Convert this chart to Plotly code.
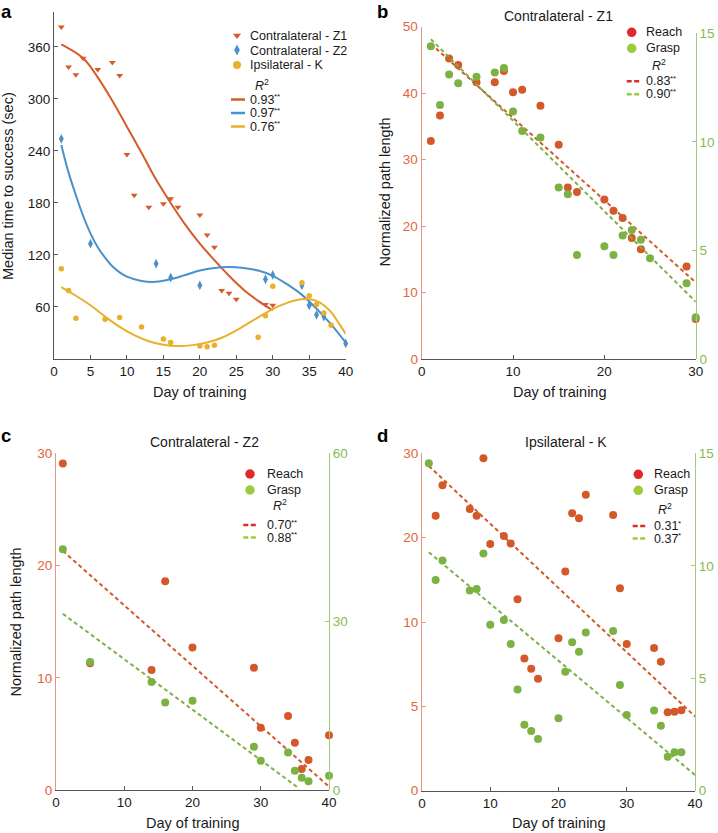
import plotly.graph_objects as go

W, H = 718, 833
FONT = "Liberation Sans, Arial, Helvetica, sans-serif"

# ---------------- data: panel a ----------------
a_z1_days = [1, 2, 3, 4, 6, 8, 9, 10, 11, 13, 15, 16, 17, 20, 21, 22, 23, 24, 25, 29, 30]
a_z1_vals = [383, 337, 328, 347, 334, 342, 327, 236, 189, 175, 179, 185, 175, 166, 143, 129, 79, 76, 69, 63, 62]
a_z2_days = [1, 5, 14, 16, 20, 29, 30, 34, 35, 36, 37, 40]
a_z2_vals = [254, 133, 110, 94, 85, 92, 97, 85, 62, 51, 49, 18]
a_k_days = [1, 2, 3, 7, 9, 12, 15, 16, 20, 21, 22, 28, 29, 30, 34, 35, 36, 37, 38]
a_k_vals = [104, 79, 47, 46, 48, 37, 23, 19, 15, 14, 16, 25, 50, 84, 88, 73, 63, 53, 39]

a_z1_fit_days = [1, 4, 6, 8, 10, 12, 14, 16, 18, 20, 22, 24, 26, 28, 30]
a_z1_fit_vals = [363, 347, 325, 298, 268, 238, 207, 180, 155, 133, 114, 96, 80, 67, 56]
a_z2_fit_days = [1, 2, 3, 4, 5, 6, 7, 8, 9, 10, 12, 14, 16, 18, 20, 22, 24, 26, 28, 30, 32, 34, 36, 38, 40]
a_z2_fit_vals = [247, 215, 189, 165, 145, 129, 117, 107, 100, 95, 90, 89, 92, 97, 102, 105, 106, 105, 102, 96, 86, 74, 58, 40, 19]
a_k_fit_days = [1, 3, 5, 7, 9, 11, 13, 15, 17, 19, 21, 23, 25, 27, 29, 31, 33, 35, 36, 37, 38, 39, 40]
a_k_fit_vals = [83, 73, 62, 49, 37, 27.5, 20.5, 16.5, 15, 16, 19, 24.5, 33, 43, 53, 61.5, 67.5, 69, 67, 62, 54, 42, 29]

a_x_ticks = [0, 5, 10, 15, 20, 25, 30, 35, 40]
a_y_ticks = [60, 120, 180, 240, 300, 360]
a_legend = ["Contralateral - Z1", "Contralateral - Z2", "Ipsilateral - K"]
a_r2 = ["0.93", "0.97", "0.76"]
a_sig = ["**", "**", "**"]

# ---------------- data: panel b (Contralateral - Z1) ----------------
b_reach_days = [1, 2, 3, 4, 6, 8, 9, 10, 11, 13, 15, 16, 17, 20, 21, 22, 23, 24, 29, 30]
b_reach_vals = [32.8, 36.6, 45.2, 44.2, 41.6, 41.6, 43.3, 40.1, 40.5, 38.1, 32.2, 25.8, 25.1, 24.0, 22.3, 21.2, 18.2, 16.5, 13.9, 6.0]
b_grasp_days = [1, 2, 3, 4, 6, 8, 9, 10, 11, 13, 15, 16, 17, 20, 21, 22, 23, 24, 25, 29, 30]
b_grasp_vals = [14.4, 11.7, 13.1, 12.7, 13.0, 13.2, 13.4, 11.4, 10.5, 10.2, 7.9, 7.6, 4.8, 5.2, 4.8, 5.7, 5.95, 5.5, 4.65, 3.5, 1.93]
b_reach_fit_days = [1, 30]
b_reach_fit_vals = [47.4, 11.5]
b_grasp_fit_days = [1, 30]
b_grasp_fit_vals = [14.73, 2.65]
b_x_ticks = [0, 10, 20, 30]
b_left_ticks = [0, 10, 20, 30, 40, 50]
b_right_ticks = [0, 5, 10, 15]
b_r2 = ["0.83", "0.90"]
b_sig = ["**", "**"]

# ---------------- data: panel c (Contralateral - Z2) ----------------
c_reach_days = [1, 5, 14, 16, 20, 29, 30, 34, 35, 36, 37, 40]
c_reach_vals = [29.1, 11.3, 10.7, 18.6, 12.7, 10.9, 5.55, 6.6, 4.2, 1.87, 2.67, 4.87]
c_grasp_days = [1, 5, 14, 16, 20, 29, 30, 34, 35, 36, 37, 40]
c_grasp_vals = [42.9, 22.8, 19.25, 15.6, 15.9, 7.7, 5.2, 6.7, 3.45, 2.2, 1.55, 2.55]
c_reach_fit_days = [1, 40]
c_reach_fit_vals = [21.3, 0.3]
c_grasp_fit_days = [1, 35.6]
c_grasp_fit_vals = [31.4, 0.3]
c_x_ticks = [0, 10, 20, 30, 40]
c_left_ticks = [0, 10, 20, 30]
c_right_ticks = [0, 30, 60]
c_r2 = ["0.70", "0.88"]
c_sig = ["**", "**"]

# ---------------- data: panel d (Ipsilateral - K) ----------------
d_reach_days = [2, 3, 7, 8, 9, 10, 12, 13, 14, 15, 16, 17, 20, 21, 22, 23, 24, 28, 29, 30, 34, 35, 36, 37, 38]
d_reach_vals = [22.6, 26.2, 23.4, 22.6, 29.4, 19.25, 20.2, 19.3, 12.7, 7.83, 7.23, 6.64, 9.03, 16.0, 22.9, 22.3, 25.1, 22.7, 14.0, 8.7, 8.46, 7.65, 4.65, 4.68, 4.77]
d_grasp_days = [1, 2, 3, 7, 8, 9, 10, 12, 13, 14, 15, 16, 17, 20, 21, 22, 23, 24, 28, 29, 30, 34, 35, 36, 37, 38]
d_grasp_vals = [14.56, 9.37, 10.23, 8.9, 8.97, 10.54, 7.38, 7.59, 6.52, 4.5, 2.93, 2.65, 2.3, 3.22, 5.29, 6.6, 6.18, 7.03, 7.1, 4.7, 3.37, 3.56, 2.89, 1.51, 1.71, 1.71]
d_reach_fit_days = [1, 40]
d_reach_fit_vals = [28.5, 4.4]
d_grasp_fit_days = [1, 40]
d_grasp_fit_vals = [10.6, 0.7]
d_x_ticks = [0, 10, 20, 30, 40]
d_left_ticks = [0, 5, 10, 20, 30]
d_right_ticks = [0, 5, 10, 15]
d_r2 = ["0.31", "0.37"]
d_sig = ["*", "*"]


def d_scale(v):
    """Broken left axis of panel d: 0-10 stretched twice as much as 10-30."""
    return 2 * v if v <= 10 else v + 10


# ---------------- styling ----------------
RED_A, BLUE_A, YEL_A = "#D65A2A", "#4A90CB", "#E8B02B"
REACH, GRASP = "#D4592A", "#7CB244"
REACH_LEG, GRASP_LEG = "#DD2A2A", "#9ECB3C"
REACH_AX, GRASP_AX = "#E8967A", "#A2C97E"
REACH_TICK, GRASP_TICK = "#E2653C", "#86BA52"
AX_DARK = "#555555"
TXT = "#1a1a1a"
TICK_SIZE = 13.5


def X(p):
    return p / W


def Y(p):
    return 1 - p / H


fig = go.Figure()


def sc(x, y, xa, ya, **kw):
    fig.add_trace(go.Scatter(x=x, y=y, xaxis=xa, yaxis=ya, hoverinfo="skip",
                             cliponaxis=False, showlegend=False, **kw))


# panel a
sc(a_z1_fit_days, a_z1_fit_vals, "x", "y", mode="lines", line=dict(color=RED_A, width=2, shape="spline"))
sc(a_z2_fit_days, a_z2_fit_vals, "x", "y", mode="lines", line=dict(color=BLUE_A, width=2, shape="spline"))
sc(a_k_fit_days, a_k_fit_vals, "x", "y", mode="lines", line=dict(color=YEL_A, width=2, shape="spline"))
sc(a_z1_days, a_z1_vals, "x", "y", mode="markers", marker=dict(symbol="triangle-down", size=6, color=RED_A))
sc(a_z2_days, a_z2_vals, "x", "y", mode="markers", marker=dict(symbol="diamond-tall", size=7, color=BLUE_A))
sc(a_k_days, a_k_vals, "x", "y", mode="markers", marker=dict(symbol="circle", size=5.5, color=YEL_A))

DASH = "4px,3px"
# panel b
sc(b_reach_fit_days, b_reach_fit_vals, "x2", "y2", mode="lines", line=dict(color=REACH, width=2, dash=DASH))
sc(b_grasp_fit_days, b_grasp_fit_vals, "x2", "y3", mode="lines", line=dict(color=GRASP, width=2, dash=DASH))
sc(b_reach_days, b_reach_vals, "x2", "y2", mode="markers", marker=dict(size=8, color=REACH))
sc(b_grasp_days, b_grasp_vals, "x2", "y3", mode="markers", marker=dict(size=8, color=GRASP))

# panel c
sc(c_reach_fit_days, c_reach_fit_vals, "x3", "y4", mode="lines", line=dict(color=REACH, width=2, dash=DASH))
sc(c_grasp_fit_days, c_grasp_fit_vals, "x3", "y5", mode="lines", line=dict(color=GRASP, width=2, dash=DASH))
sc(c_reach_days, c_reach_vals, "x3", "y4", mode="markers", marker=dict(size=8, color=REACH))
sc(c_grasp_days, c_grasp_vals, "x3", "y5", mode="markers", marker=dict(size=8, color=GRASP))

# panel d
sc(d_reach_fit_days, [d_scale(v) for v in d_reach_fit_vals], "x4", "y6", mode="lines",
   line=dict(color=REACH, width=2, dash=DASH))
sc(d_grasp_fit_days, d_grasp_fit_vals, "x4", "y7", mode="lines", line=dict(color=GRASP, width=2, dash=DASH))
sc(d_reach_days, [d_scale(v) for v in d_reach_vals], "x4", "y6", mode="markers", marker=dict(size=8, color=REACH))
sc(d_grasp_days, d_grasp_vals, "x4", "y7", mode="markers", marker=dict(size=8, color=GRASP))


# ---------------- legends (overlay in pixel coordinates) ----------------
annotations = []
shapes = []


def text(x, y, s, size=12.5, anchor="left", yanchor="middle", color=TXT, **kw):
    annotations.append(dict(x=x, y=y, xref="x5", yref="y8", text=s, showarrow=False,
                            xanchor=anchor, yanchor=yanchor, borderpad=0,
                            font=dict(family=FONT, size=size, color=color), **kw))


def r2_text(x, y, val, sig):
    text(x, y, val, size=12.5)
    text(x + 24.3, y - 3, sig, size=8)


def legline(x0, x1, y, color, dash=None):
    shapes.append(dict(type="line", xref="x5", yref="y8", x0=x0, x1=x1, y0=y, y1=y,
                       line=dict(color=color, width=2.5, dash=dash)))


# panel a legend
sc([237], [35.5], "x5", "y8", mode="markers", marker=dict(symbol="triangle-down", size=7, color=RED_A))
sc([237], [50], "x5", "y8", mode="markers", marker=dict(symbol="diamond-tall", size=8, color=BLUE_A))
sc([237], [65], "x5", "y8", mode="markers", marker=dict(symbol="circle", size=8, color=YEL_A))
for i, lab in enumerate(a_legend):
    text(249, 36 + i * 14.5, lab)
text(262, 85, "<i>R</i><sup>2</sup>", anchor="center")
for i, (c, r, s) in enumerate(zip([RED_A, BLUE_A, YEL_A], a_r2, a_sig)):
    yy = 99.5 + i * 13.5
    legline(231, 245, yy, c)
    r2_text(249, yy, r, s)


def small_legend(mx, my, tx, r2x, r2y, ly, lx0, lx1, r2, sig, step=12.6):
    sc([mx, mx], [my, my + 16], "x5", "y8", mode="markers",
       marker=dict(size=9.5, color=[REACH_LEG, GRASP_LEG]))
    text(tx, my, "Reach")
    text(tx, my + 16, "Grasp")
    text(r2x, r2y, "<i>R</i><sup>2</sup>", anchor="center")
    for i, (c, r, s) in enumerate(zip([REACH_LEG, GRASP_LEG], r2, sig)):
        yy = ly + i * step
        legline(lx0, lx1, yy, c, dash="5px,2.5px")
        r2_text(tx, yy, r, s)


small_legend(631.7, 32.3, 645, 659, 64.7, 81.3, 626.7, 641.7, b_r2, b_sig, step=13)
small_legend(250, 474, 265.5, 280, 505, 525, 243.3, 258.3, c_r2, c_sig)
small_legend(638.3, 474.3, 653, 665, 509, 526, 632.7, 647.3, d_r2, d_sig)

# titles, axis titles, panel letters
text(558.5, 15.5, "Contralateral - Z1", size=14, anchor="center")
text(204, 441.7, "Contralateral - Z2", size=14, anchor="center")
text(566.3, 441.7, "Ipsilateral - K", size=14, anchor="center")

text(200, 392, "Day of training", size=14.5, anchor="center")
text(559.5, 392, "Day of training", size=14.5, anchor="center")
text(193, 823, "Day of training", size=14.5, anchor="center")
text(558.8, 823, "Day of training", size=14.5, anchor="center")

text(8, 186, "Median time to success (sec)", size=14.5, anchor="center", textangle=-90)
text(384, 192.5, "Normalized path length", size=14.5, anchor="center", textangle=-90)
text(15.5, 622, "Normalized path length", size=14.5, anchor="center", textangle=-90)

text(6, 0, "<b>a</b>", size=18.5, anchor="center", yanchor="top", color="#000")
text(382.5, 0, "<b>b</b>", size=18.5, anchor="center", yanchor="top", color="#000")
text(6, 424, "<b>c</b>", size=18.5, anchor="center", yanchor="top", color="#000")
text(382.5, 424, "<b>d</b>", size=18.5, anchor="center", yanchor="top", color="#000")


# ---------------- axes ----------------
def ax(domain, rng, tickvals, line_color, tick_color, anchor, side=None, ticktext=None):
    d = dict(domain=domain, range=rng, autorange=False, fixedrange=True, automargin=False,
             tickmode="array", tickvals=tickvals,
             ticks="inside", ticklen=4, tickwidth=1, tickcolor=line_color,
             showline=True, linecolor=line_color, linewidth=1.2,
             showgrid=False, zeroline=False, anchor=anchor,
             tickfont=dict(family=FONT, size=TICK_SIZE, color=tick_color))
    if side:
        d["side"] = side
    if ticktext is not None:
        d["ticktext"] = ticktext
    return d


layout = dict(
    template="none",
    width=W, height=H, margin=dict(l=0, r=0, t=0, b=0, pad=0), autosize=False,
    paper_bgcolor="white", plot_bgcolor="rgba(0,0,0,0)",
    showlegend=False, font=dict(family=FONT, color=TXT),
    # panel a
    xaxis=ax([X(54), X(345.7)], [0, 40], a_x_ticks, AX_DARK, TXT, "y"),
    yaxis=ax([Y(359), Y(12.3)], [0, 400], a_y_ticks, AX_DARK, TXT, "x"),
    # panel b
    xaxis2=ax([X(421.7), X(695.7)], [0, 30], b_x_ticks, AX_DARK, TXT, "y2"),
    yaxis2=ax([Y(359), Y(26.5)], [0, 50], b_left_ticks, REACH_AX, REACH_TICK, "x2"),
    yaxis3=ax([Y(359.3), Y(33.3)], [0, 15], b_right_ticks, GRASP_AX, GRASP_TICK, "x2", side="right"),
    # panel c
    xaxis3=ax([X(56), X(329)], [0, 40], c_x_ticks, AX_DARK, TXT, "y4"),
    yaxis4=ax([Y(790), Y(453.3)], [0, 30], c_left_ticks, REACH_AX, REACH_TICK, "x3"),
    yaxis5=ax([Y(790), Y(453.3)], [0, 60], c_right_ticks, GRASP_AX, GRASP_TICK, "x3", side="right"),
    # panel d
    xaxis4=ax([X(422), X(695)], [0, 40], d_x_ticks, AX_DARK, TXT, "y6"),
    yaxis6=ax([Y(790.7), Y(453.3)], [0, d_scale(30)], [d_scale(v) for v in d_left_ticks],
              REACH_AX, REACH_TICK, "x4", ticktext=[str(v) for v in d_left_ticks]),
    yaxis7=ax([Y(790.7), Y(453.3)], [0, 15], d_right_ticks, GRASP_AX, GRASP_TICK, "x4", side="right"),
    # overlay in pixel coordinates for legends / labels
    xaxis5=dict(domain=[0, 1], range=[0, W], visible=False, fixedrange=True, automargin=False, anchor="y8"),
    yaxis8=dict(domain=[0, 1], range=[H, 0], visible=False, fixedrange=True, automargin=False, anchor="x5"),
    annotations=annotations, shapes=shapes,
)
fig.update_layout(**layout)
# remove the browser's default 8px body margin so the figure fills the window exactly
fig.write_html("out.html", config={"displayModeBar": False},
               post_script="document.body.style.margin='0px';document.body.style.overflow='hidden';")
